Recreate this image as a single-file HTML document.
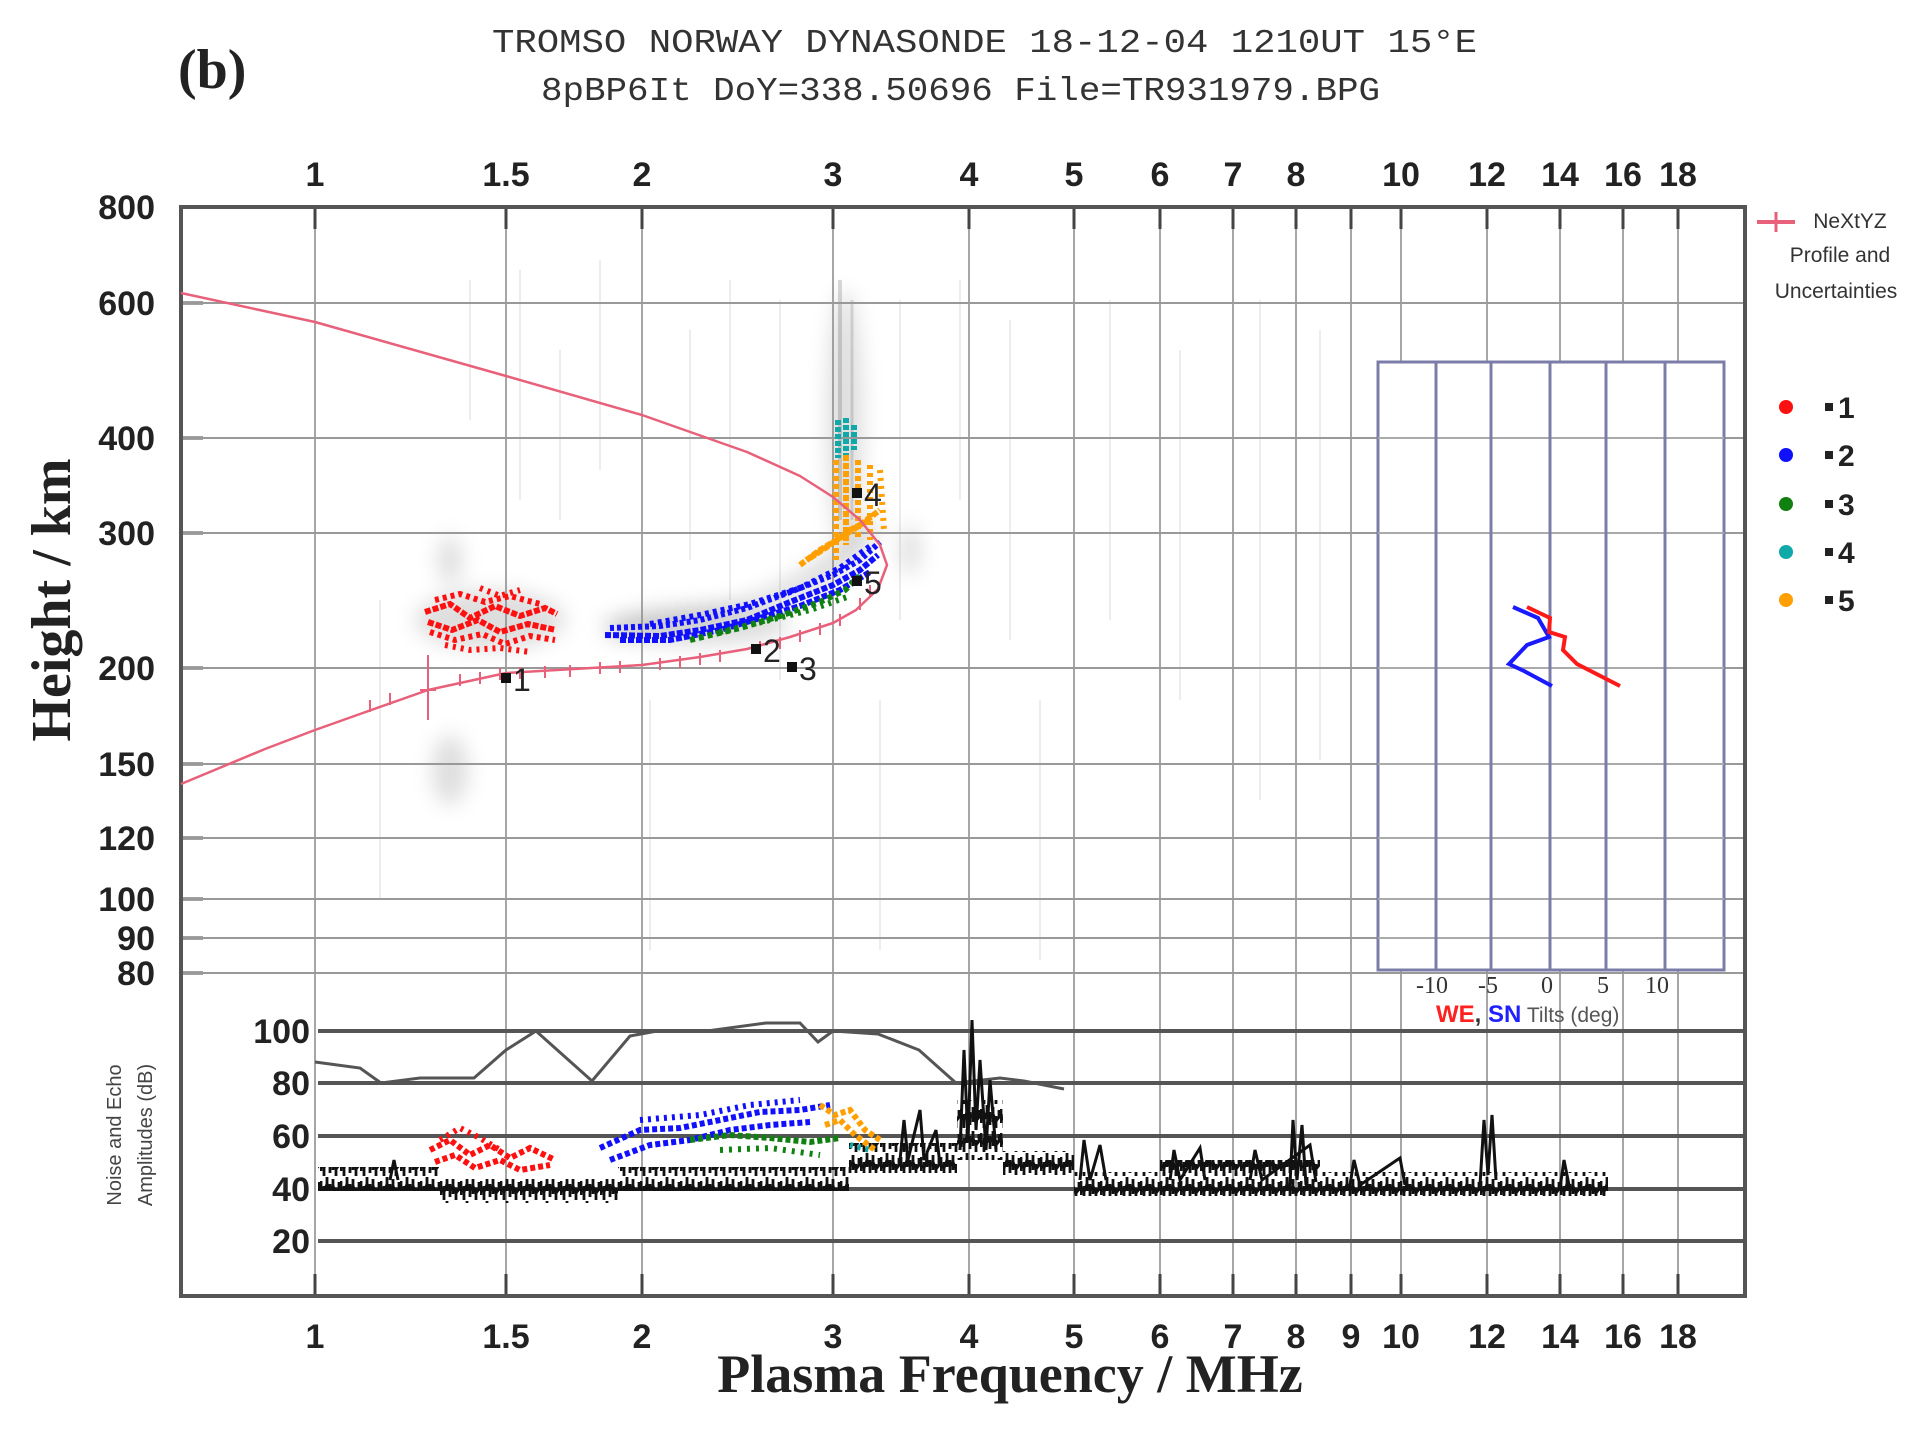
<!DOCTYPE html>
<html><head><meta charset="utf-8"><style>
html,body{margin:0;padding:0;background:#fff;}
svg{display:block;}
</style></head><body>
<svg width="1906" height="1437" viewBox="0 0 1906 1437" xmlns="http://www.w3.org/2000/svg">
<defs>
<filter id="bl" x="-50%" y="-50%" width="200%" height="200%"><feGaussianBlur stdDeviation="10"/></filter>
<pattern id="nz" width="20" height="24" patternUnits="userSpaceOnUse">
<g stroke="#111" stroke-width="2.8">
<line x1="1" y1="5" x2="1" y2="19"/><line x1="4" y1="10" x2="4" y2="24"/><line x1="7" y1="1" x2="7" y2="15"/><line x1="10" y1="8" x2="10" y2="21"/><line x1="13" y1="3" x2="13" y2="18"/><line x1="16" y1="12" x2="16" y2="24"/><line x1="19" y1="6" x2="19" y2="14"/>
<polyline points="0,12 4,16 7,8 10,14 13,10 16,17 20,12" fill="none"/>
</g></pattern>
</defs>
<rect width="1906" height="1437" fill="#fff"/>
<g fill="#000" fill-opacity="0.13" filter="url(#bl)">
<ellipse cx="490" cy="620" rx="75" ry="30"/>
<ellipse cx="700" cy="625" rx="90" ry="20"/>
<path d="M610 640 Q760 620 830 585 Q870 560 880 520 L860 520 Q820 570 740 600 Q660 620 600 620 Z"/>
<ellipse cx="845" cy="420" rx="18" ry="130"/>
<ellipse cx="450" cy="770" rx="18" ry="35"/>
<ellipse cx="450" cy="560" rx="12" ry="25"/>
<ellipse cx="910" cy="550" rx="10" ry="25"/>
</g>
<g stroke="#000" stroke-opacity="0.07" stroke-width="2">
<line x1="470" y1="280" x2="470" y2="420"/><line x1="520" y1="270" x2="520" y2="500"/><line x1="560" y1="350" x2="560" y2="520"/><line x1="600" y1="260" x2="600" y2="470"/><line x1="690" y1="330" x2="690" y2="560"/><line x1="730" y1="280" x2="730" y2="600"/><line x1="780" y1="300" x2="780" y2="680"/><line x1="900" y1="300" x2="900" y2="620"/><line x1="960" y1="280" x2="960" y2="500"/><line x1="1010" y1="320" x2="1010" y2="640"/><line x1="1110" y1="300" x2="1110" y2="620"/><line x1="1180" y1="350" x2="1180" y2="700"/><line x1="1260" y1="300" x2="1260" y2="800"/><line x1="1320" y1="330" x2="1320" y2="760"/><line x1="380" y1="600" x2="380" y2="900"/><line x1="650" y1="700" x2="650" y2="950"/><line x1="880" y1="700" x2="880" y2="950"/><line x1="1040" y1="700" x2="1040" y2="960"/><line x1="840" y1="280" x2="840" y2="520" stroke-opacity="0.15" stroke-width="4"/><line x1="852" y1="300" x2="852" y2="520" stroke-opacity="0.12" stroke-width="3"/>
</g>
<g stroke="#888" stroke-width="1.5">
<line x1="315" y1="207" x2="315" y2="1296"/><line x1="506" y1="207" x2="506" y2="1296"/><line x1="642" y1="207" x2="642" y2="1296"/><line x1="833" y1="207" x2="833" y2="1296"/><line x1="969" y1="207" x2="969" y2="1296"/><line x1="1074" y1="207" x2="1074" y2="1296"/><line x1="1160" y1="207" x2="1160" y2="1296"/><line x1="1233" y1="207" x2="1233" y2="1296"/><line x1="1296" y1="207" x2="1296" y2="1296"/><line x1="1351" y1="207" x2="1351" y2="1296"/><line x1="1401" y1="207" x2="1401" y2="1296"/><line x1="1487" y1="207" x2="1487" y2="1296"/><line x1="1560" y1="207" x2="1560" y2="1296"/><line x1="1623" y1="207" x2="1623" y2="1296"/><line x1="1678" y1="207" x2="1678" y2="1296"/>
</g>
<g stroke="#444" stroke-width="3">
<path d="M315 207v22M506 207v22M642 207v22M833 207v22M969 207v22M1074 207v22M1160 207v22M1233 207v22M1296 207v22M1351 207v22M1401 207v22M1487 207v22M1560 207v22M1623 207v22M1678 207v22"/>
<path d="M315 1296v-22M506 1296v-22M642 1296v-22M833 1296v-22M969 1296v-22M1074 1296v-22M1160 1296v-22M1233 1296v-22M1296 1296v-22M1351 1296v-22M1401 1296v-22M1487 1296v-22M1560 1296v-22M1623 1296v-22M1678 1296v-22"/>
<path d="M181 207h22M181 303h22M181 438h22M181 533h22M181 668h22M181 764h22M181 838h22M181 899h22M181 938h22M181 973h22"/>
</g>
<g stroke="#999" stroke-width="2">
<path d="M181 303H1745M181 438H1745M181 533H1745M181 668H1745M181 764H1745M181 838H1745M181 899H1745M181 938H1745M181 973H1745"/>
</g>
<g stroke="#555" stroke-width="4">
<path d="M318 1031H1745M318 1083H1745M318 1136H1745M318 1189H1745M318 1241H1745"/>
</g>
<rect x="181" y="207" width="1564" height="1089" fill="none" stroke="#555" stroke-width="4"/>
<g font-family="Liberation Sans, sans-serif" font-weight="bold" font-size="34" fill="#222" text-anchor="middle">
<text x="315" y="186">1</text><text x="506" y="186">1.5</text><text x="642" y="186">2</text><text x="833" y="186">3</text><text x="969" y="186">4</text><text x="1074" y="186">5</text><text x="1160" y="186">6</text><text x="1233" y="186">7</text><text x="1296" y="186">8</text><text x="1401" y="186">10</text><text x="1487" y="186">12</text><text x="1560" y="186">14</text><text x="1623" y="186">16</text><text x="1678" y="186">18</text>
<text x="315" y="1348">1</text><text x="506" y="1348">1.5</text><text x="642" y="1348">2</text><text x="833" y="1348">3</text><text x="969" y="1348">4</text><text x="1074" y="1348">5</text><text x="1160" y="1348">6</text><text x="1233" y="1348">7</text><text x="1296" y="1348">8</text><text x="1351" y="1348">9</text><text x="1401" y="1348">10</text><text x="1487" y="1348">12</text><text x="1560" y="1348">14</text><text x="1623" y="1348">16</text><text x="1678" y="1348">18</text>
</g>
<g font-family="Liberation Sans, sans-serif" font-weight="bold" font-size="34" fill="#222" text-anchor="end">
<text x="155" y="219">800</text><text x="155" y="315">600</text><text x="155" y="450">400</text><text x="155" y="545">300</text><text x="155" y="680">200</text><text x="155" y="776">150</text><text x="155" y="850">120</text><text x="155" y="911">100</text><text x="155" y="950">90</text><text x="155" y="985">80</text>
<text x="310" y="1043">100</text><text x="310" y="1095">80</text><text x="310" y="1148">60</text><text x="310" y="1201">40</text><text x="310" y="1253">20</text>
</g>
<rect x="1378" y="362" width="346" height="608" fill="#fff" stroke="#7c7ca8" stroke-width="3"/>
<g stroke="#aaa" stroke-width="2"><path d="M1378 438H1724M1378 533H1724M1378 668H1724M1378 764H1724M1378 838H1724M1378 899H1724M1378 938H1724"/></g>
<g stroke="#7c7ca8" stroke-width="3"><path d="M1436 362V970M1491 362V970M1550 362V970M1606 362V970M1665 362V970"/></g>
<polyline points="1513,607 1538,618 1549,637 1527,645 1509,664 1524,671 1552,686" fill="none" stroke="#1a1aff" stroke-width="4"/>
<polyline points="1527,607 1550,618 1549,632 1565,637 1563,650 1577,664 1620,686" fill="none" stroke="#ff1a1a" stroke-width="4"/>
<g stroke="#ff1010" stroke-width="6" stroke-dasharray="6 2" fill="none">
<polyline points="425,612 450,604 470,618 495,606 520,616 545,608 557,614"/>
<polyline points="428,622 452,630 478,620 500,632 528,624 556,630"/>
<polyline points="430,632 455,640 482,634 505,644 530,636 555,640" stroke-dasharray="4 4"/>
<polyline points="435,600 460,594 485,602 510,596 540,604" stroke-dasharray="4 4"/>
<polyline points="445,645 470,650 500,648 530,652" stroke-dasharray="3 5"/>
<polyline points="480,588 500,596 520,590" stroke-dasharray="3 5"/>
</g>
<g stroke="#1010ff" stroke-width="6" stroke-dasharray="6 2" fill="none">
<polyline points="605,635 660,636 700,630 747,620 790,602 833,585 860,570 878,555"/>
<polyline points="610,628 660,626 700,620 747,608 790,592 833,575 860,560 880,542" stroke-dasharray="4 3"/>
<polyline points="620,640 670,640 720,630 760,618 800,606 840,590 870,572"/>
<polyline points="650,624 700,615 750,604 800,588 840,568 872,545" stroke-dasharray="4 4"/>
</g>
<g stroke="#108010" stroke-width="6" stroke-dasharray="5 4" fill="none">
<polyline points="690,640 740,628 780,616 820,602 845,590 860,576"/>
<polyline points="720,632 770,620 810,610 850,596" stroke-dasharray="3 5"/>
</g>
<g stroke="#ffa000" stroke-width="6" stroke-dasharray="6 2" fill="none">
<polyline points="800,565 820,550 840,538 860,525 880,510"/>
<polyline points="810,558 830,545 850,530 870,520"/>
<polyline points="836,460 836,560" stroke-dasharray="5 3"/>
<polyline points="846,455 846,545"/>
<polyline points="858,460 858,540" stroke-dasharray="5 3"/>
<polyline points="870,465 870,540" stroke-dasharray="4 4"/>
<polyline points="880,470 884,530" stroke-dasharray="3 5"/>
</g>
<g stroke="#10a8a8" stroke-width="6" stroke-dasharray="5 2" fill="none">
<polyline points="838,420 838,458"/><polyline points="846,418 846,455"/><polyline points="854,425 854,450"/>
</g>
<polyline points="181,293 315,322 506,376 642,415 747,452 800,476 833,497 860,520 880,545 887,565 878,589 856,610 833,623 790,637 747,649 700,657 642,665 506,673 428,690 360,714 315,730 265,749 181,784" fill="none" stroke="#e8607a" stroke-width="2.5" stroke-linejoin="round"/>
<g stroke="#e8607a" stroke-width="2">
<path d="M428 655V720M420 690h16M460 674v12M480 672v12M500 668v12M520 667v12M545 666v12M570 665v12M600 662v12M620 661v12M660 658v12M680 656v12M700 653v12M720 650v12M760 641v12M780 637v12M800 630v12M820 623v12M840 614v12M860 598v12M870 585v12M390 693v12M370 700v12"/>
</g>
<g font-family="Liberation Sans, sans-serif" font-size="32" fill="#222">
<rect x="501" y="673" width="10" height="10" fill="#111"/><text x="513" y="691">1</text>
<rect x="751" y="644" width="10" height="10" fill="#111"/><text x="763" y="662">2</text>
<rect x="787" y="662" width="10" height="10" fill="#111"/><text x="799" y="680">3</text>
<rect x="852" y="488" width="10" height="10" fill="#111"/><text x="864" y="506">4</text>
<rect x="852" y="576" width="10" height="10" fill="#111"/><text x="864" y="594">5</text>
</g>
<polyline points="315,1062 360,1068 381,1083 420,1078 474,1078 506,1050 536,1031 592,1081 630,1036 657,1031 707,1031 766,1023 800,1023 818,1042 833,1031 878,1034 919,1050 956,1083 1000,1078 1024,1081 1064,1089" fill="none" stroke="#555" stroke-width="3"/>
<rect x="318" y="1167" width="121" height="24" fill="url(#nz)"/>
<rect x="439" y="1179" width="179" height="24" fill="url(#nz)"/>
<rect x="618" y="1167" width="231" height="24" fill="url(#nz)"/>
<rect x="849" y="1143" width="108" height="30" fill="url(#nz)"/>
<rect x="957" y="1100" width="46" height="60" fill="url(#nz)"/>
<rect x="1003" y="1151" width="71" height="24" fill="url(#nz)"/>
<rect x="1074" y="1172" width="534" height="24" fill="url(#nz)"/>
<rect x="1160" y="1160" width="160" height="24" fill="url(#nz)"/>
<g stroke="#111" stroke-width="3" fill="none">
<polyline points="960,1150 964,1050 968,1140 972,1020 976,1130 980,1060 986,1150 990,1080 996,1150"/>
<polyline points="900,1160 904,1120 908,1160 920,1110 924,1160 936,1130 940,1165"/>
<polyline points="1290,1185 1293,1120 1297,1180 1302,1125 1306,1185"/>
<polyline points="1480,1185 1484,1120 1488,1175 1492,1115 1496,1180"/>
<polyline points="1080,1180 1084,1140 1090,1180 1100,1145 1106,1180"/>
<polyline points="1170,1180 1174,1150 1180,1180 1200,1148 1205,1180"/>
<polyline points="1250,1180 1255,1150 1262,1180 1310,1145 1316,1182"/>
<polyline points="1350,1185 1354,1160 1360,1185 1400,1158 1405,1185"/>
<polyline points="1560,1188 1564,1160 1570,1190"/>
<polyline points="390,1180 394,1160 398,1180"/>
</g>
<g stroke-width="6" stroke-dasharray="5 3" fill="none">
<g stroke="#ff1010">
<polyline points="430,1150 450,1140 470,1155 490,1145 510,1158 530,1148 555,1160"/>
<polyline points="435,1162 455,1155 475,1168 500,1160 520,1170 550,1165"/>
<polyline points="440,1140 460,1128 480,1138 500,1150" stroke-dasharray="3 5"/>
</g>
<g stroke="#1010ff">
<polyline points="600,1148 640,1130 680,1128 720,1120 760,1112 800,1110 830,1105"/>
<polyline points="610,1160 650,1145 690,1140 730,1130 770,1125 810,1122"/>
<polyline points="640,1120 700,1115 750,1105 800,1100" stroke-dasharray="3 5"/>
</g>
<g stroke="#108010">
<polyline points="690,1140 730,1135 770,1138 810,1142 840,1138"/>
<polyline points="720,1150 770,1148 820,1155" stroke-dasharray="3 6"/>
</g>
<g stroke="#ffa000">
<polyline points="820,1105 835,1115 850,1110 865,1130 880,1140"/>
<polyline points="825,1125 840,1120 855,1135 875,1150"/>
</g>
<g stroke="#10a8a8"><polyline points="850,1145 870,1150" stroke-dasharray="3 5"/></g>
</g>
<g font-family="Liberation Mono, monospace" fill="#333" font-size="33">
<text x="492" y="52" textLength="985" lengthAdjust="spacingAndGlyphs">TROMSO NORWAY   DYNASONDE 18-12-04 1210UT 15°E</text>
<text x="541" y="100" textLength="839" lengthAdjust="spacingAndGlyphs">8pBP6It DoY=338.50696 File=TR931979.BPG</text>
</g>
<text x="178" y="88" font-family="Liberation Serif, serif" font-weight="bold" font-size="56" fill="#222">(b)</text>
<text transform="translate(70,600) rotate(-90)" text-anchor="middle" font-family="Liberation Serif, serif" font-weight="bold" font-size="56" fill="#222">Height / km</text>
<text x="1010" y="1392" text-anchor="middle" font-family="Liberation Serif, serif" font-weight="bold" font-size="54" fill="#222">Plasma Frequency / MHz</text>
<g font-family="Liberation Sans, sans-serif" font-size="20" fill="#444" text-anchor="middle">
<text transform="translate(121,1135) rotate(-90)">Noise and Echo</text>
<text transform="translate(152,1135) rotate(-90)">Amplitudes (dB)</text>
</g>
<g font-family="Liberation Sans, sans-serif" font-size="21" fill="#333" text-anchor="middle">
<text x="1850" y="228">NeXtYZ</text>
<text x="1840" y="262">Profile and</text>
<text x="1836" y="298">Uncertainties</text>
</g>
<line x1="1757" y1="222" x2="1795" y2="222" stroke="#e8607a" stroke-width="4"/>
<line x1="1776" y1="212" x2="1776" y2="232" stroke="#e8607a" stroke-width="3"/>
<g font-family="Liberation Sans, sans-serif" font-size="30" font-weight="bold" fill="#222">
<circle cx="1786" cy="407" r="7" fill="#ff1010"/><rect x="1825" y="403" width="8" height="8"/><text x="1838" y="418">1</text>
<circle cx="1786" cy="455" r="7" fill="#1010ff"/><rect x="1825" y="451" width="8" height="8"/><text x="1838" y="466">2</text>
<circle cx="1786" cy="504" r="7" fill="#108010"/><rect x="1825" y="500" width="8" height="8"/><text x="1838" y="515">3</text>
<circle cx="1786" cy="552" r="7" fill="#10a8a8"/><rect x="1825" y="548" width="8" height="8"/><text x="1838" y="563">4</text>
<circle cx="1786" cy="600" r="7" fill="#ffa000"/><rect x="1825" y="596" width="8" height="8"/><text x="1838" y="611">5</text>
</g>
<g font-family="Liberation Serif, serif" font-size="24" fill="#333" text-anchor="middle">
<text x="1432" y="993">-10</text><text x="1488" y="993">-5</text><text x="1547" y="993">0</text><text x="1603" y="993">5</text><text x="1657" y="993">10</text>
</g>
<text x="1436" y="1022" font-family="Liberation Sans, sans-serif" font-size="24" font-weight="bold"><tspan fill="#ff2020">WE</tspan><tspan fill="#333">, </tspan><tspan fill="#2020ff">SN</tspan><tspan fill="#555" font-weight="normal" font-size="21"> Tilts (deg)</tspan></text>
</svg>
</body></html>
